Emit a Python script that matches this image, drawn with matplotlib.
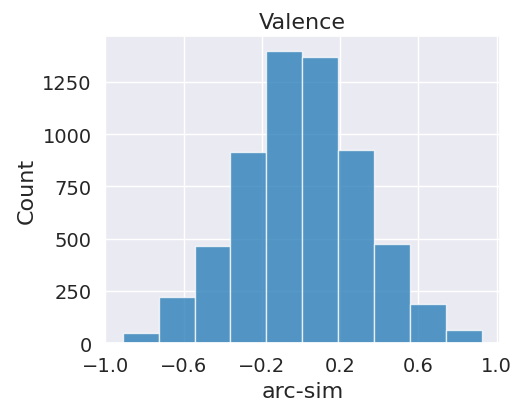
import numpy as np
import matplotlib
matplotlib.use("Agg")
import matplotlib.pyplot as plt
import seaborn as sns

# histogram of arc-sim for Valence (counts)
bin_min = -0.912
bin_max = 0.924
counts = [50, 220, 465, 915, 1400, 1370, 925, 475, 185, 62]
x_ticks = [-1.0, -0.6, -0.2, 0.2, 0.6, 1.0]
y_ticks = [0, 250, 500, 750, 1000, 1250]

sns.set_theme(style="darkgrid")
plt.rcParams.update({
    "xtick.labelsize": 14,
    "ytick.labelsize": 14,
    "axes.labelsize": 16,
    "axes.titlesize": 16,
})

edges = np.linspace(bin_min, bin_max, len(counts) + 1)
centers = (edges[:-1] + edges[1:]) / 2

fig, ax = plt.subplots(figsize=(5.11, 4.02), dpi=100)
fig.subplots_adjust(left=0.205, right=0.978, top=0.908, bottom=0.144)

ax.hist(centers, bins=edges, weights=counts, color="#1f77b4", alpha=0.75,
        edgecolor="white", linewidth=1)
ax.margins(x=0.05, y=0.05)
ax.set_xticks(x_ticks)
ax.set_yticks(y_ticks)
ax.set_xlabel("arc-sim")
ax.set_ylabel("Count")
ax.set_title("Valence")

plt.savefig("out.png", dpi=100)
